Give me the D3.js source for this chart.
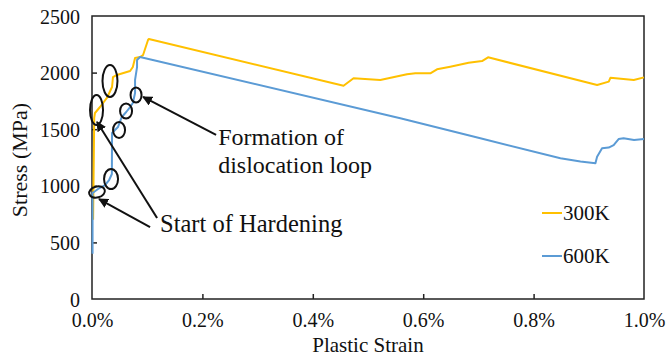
<!DOCTYPE html>
<html>
<head>
<meta charset="utf-8">
<script src="https://cdn.jsdelivr.net/npm/d3@7"></script>
<style>
	body { margin: 0; background: #fff; }
	svg text { font-family: "Liberation Serif", "Times New Roman", serif; fill: #111; }
</style>
</head>
<body>
<div id="grafic"></div>
<script>
// dades llegides del gràfic (deformació en %, tensió en MPa)
var strain300 = [0.002, 0.004, 0.0054, 0.0145, 0.027, 0.0363, 0.038, 0.045, 0.069, 0.074, 0.078, 0.087, 0.0925, 0.1015, 0.103,
	0.4557, 0.4738, 0.5222, 0.5706, 0.5857, 0.6129, 0.625, 0.649, 0.6823, 0.7066, 0.7175, 0.9151, 0.9362, 0.9393, 0.9815, 1.0];
var stress300 = [700, 1600, 1643, 1696, 1776, 1873, 1961, 1979, 2014, 2050, 2129, 2138, 2155, 2288, 2297,
	1884, 1950, 1935, 1985, 1994, 1994, 2029, 2052, 2087, 2102, 2135, 1890, 1920, 1955, 1935, 1958];

var strain600 = [0.001, 0.001, 0.011, 0.0236, 0.031, 0.036, 0.0363, 0.047, 0.054, 0.062, 0.069, 0.074, 0.078, 0.078, 0.0816, 0.0816, 0.087,
	0.5585, 0.7035, 0.8486, 0.8849, 0.912, 0.915, 0.924, 0.936, 0.945, 0.954, 0.963, 0.982, 1.0];
var stress600 = [400, 936, 972, 1007, 1051, 1104, 1466, 1519, 1608, 1652, 1696, 1731, 1820, 1935, 2049, 2111, 2138,
	1596, 1420, 1243, 1215, 1199, 1257, 1331, 1338, 1360, 1413, 1420, 1405, 1413];

var sèries = ['300K', '600K'];
var colors = ['#FFC000', '#5B9BD5'];

var xTicks = [0, 0.2, 0.4, 0.6, 0.8, 1.0];
var yTicks = [0, 500, 1000, 1500, 2000, 2500];

// anotacions (centre en unitats de dades)
var elX = [0.0326, 0.0082, 0.0798, 0.0617, 0.049, 0.0345, 0.0091];
var elY = [1926, 1670, 1802, 1661, 1493, 1060, 945];
var fletxaDe = [[0.2248, 1449], [0.1179, 716], [0.1052, 636]];
var fletxaA = [[0.0925, 1785], [0.0091, 1564], [0.0127, 883]];

var Amplada = 667, Alçada = 357;
var marge = {dalt: 16, dreta: 23, baix: 58, esquerra: 92};
var amplada = Amplada - marge.esquerra - marge.dreta,
	alçada = Alçada - marge.dalt - marge.baix;

var svg = d3.select('#grafic').append('svg')
	.attr('width', Amplada)
	.attr('height', Alçada);

svg.append('defs').append('marker')
	.attr('id', 'cap')
	.attr('viewBox', '0 0 10 10')
	.attr('refX', 9).attr('refY', 5)
	.attr('markerWidth', 5).attr('markerHeight', 5)
	.attr('markerUnits', 'strokeWidth')
	.attr('orient', 'auto')
	.append('path').attr('d', 'M0,0L10,5L0,10z').attr('fill', '#111');

var llenç = svg.append('g')
	.attr('transform', `translate(${marge.esquerra},${marge.dalt})`);

var x = d3.scaleLinear().domain([0, 1]).range([0, amplada]);
var y = d3.scaleLinear().domain([0, 2500]).range([alçada, 0]);

// eixos amb marques cap a dins
var eixX = llenç.append('g')
	.attr('transform', `translate(0,${alçada})`)
	.call(d3.axisBottom(x).tickValues(xTicks).tickSize(-5).tickFormat(d => d.toFixed(1) + '%').tickPadding(14));
var eixY = llenç.append('g')
	.call(d3.axisLeft(y).tickValues(yTicks).tickSize(-5).tickFormat(d3.format('d')).tickPadding(12));

[eixX, eixY].forEach(function(e) {
	e.select('.domain').remove();
	e.selectAll('line').attr('stroke', '#222').attr('stroke-width', 1.5);
	e.selectAll('text').style('font-size', '20px').attr('fill', '#111');
});
eixX.selectAll('.tick').filter(d => d === 0 || d === 1).select('line').remove();
eixY.selectAll('.tick').filter(d => d === 0 || d === 2500).select('line').remove();
eixY.selectAll('text').attr('dy', '0.35em');

// marc
llenç.append('rect')
	.attr('x', 0).attr('y', 0)
	.attr('width', amplada).attr('height', alçada)
	.attr('fill', 'none')
	.attr('stroke', '#222')
	.attr('stroke-width', 1.5);

var línia = d3.line()
	.x(d => x(d[0]))
	.y(d => y(d[1]));

var dades = [
	d3.zip(strain300, stress300),
	d3.zip(strain600, stress600)
];

llenç.append('g')
	.selectAll('path')
	.data(dades)
	.enter()
	.append('path')
		.attr('d', línia)
		.attr('fill', 'none')
		.attr('stroke', (d, i) => colors[i])
		.attr('stroke-width', 2)
		.attr('stroke-linejoin', 'round');

// el·lipses
var rX = [7.5, 6.5, 5.5, 6, 6, 7, 8];
var rY = [16, 15, 7.5, 7.5, 8, 10, 5.5];
var rot = [0, 0, 0, 0, 0, 0, -15];
llenç.append('g')
	.selectAll('ellipse')
	.data(elX)
	.enter()
	.append('ellipse')
		.attr('transform', (d, i) => `translate(${x(d)},${y(elY[i])}) rotate(${rot[i]})`)
		.attr('rx', (d, i) => rX[i])
		.attr('ry', (d, i) => rY[i])
		.attr('fill', 'none')
		.attr('stroke', '#111')
		.attr('stroke-width', 2);

// fletxes
llenç.append('g')
	.selectAll('line')
	.data(fletxaDe)
	.enter()
	.append('line')
		.attr('x1', d => x(d[0]))
		.attr('y1', d => y(d[1]))
		.attr('x2', (d, i) => x(fletxaA[i][0]))
		.attr('y2', (d, i) => y(fletxaA[i][1]))
		.attr('stroke', '#111')
		.attr('stroke-width', 2)
		.attr('marker-end', 'url(#cap)');

llenç.append('text')
	.attr('x', x(0.2285)).attr('y', y(1362))
	.style('font-size', '24px')
	.text('Formation of');
llenç.append('text')
	.attr('x', x(0.2285)).attr('y', y(1114))
	.style('font-size', '24px')
	.text('dislocation loop');
llenç.append('text')
	.attr('x', x(0.1233)).attr('y', y(592))
	.style('font-size', '24.5px')
	.text('Start of Hardening');

// llegenda
var llegenda = llenç.append('g')
	.selectAll('g')
	.data(sèries)
	.enter()
	.append('g')
		.attr('transform', (d, i) => `translate(${amplada - 102},${197 + i * 43})`);
llegenda.append('line')
	.attr('x1', 0).attr('x2', 20)
	.attr('stroke', (d, i) => colors[i])
	.attr('stroke-width', 2);
llegenda.append('text')
	.attr('x', 21).attr('dy', '0.35em')
	.style('font-size', '21px')
	.text(d => d);

// títols dels eixos
svg.append('text')
	.attr('x', marge.esquerra + amplada / 2)
	.attr('y', 352)
	.attr('text-anchor', 'middle')
	.style('font-size', '21px')
	.text('Plastic Strain');
svg.append('text')
	.attr('transform', 'translate(27,160) rotate(-90)')
	.attr('text-anchor', 'middle')
	.style('font-size', '22px')
	.text('Stress (MPa)');
</script>
</body>
</html>
